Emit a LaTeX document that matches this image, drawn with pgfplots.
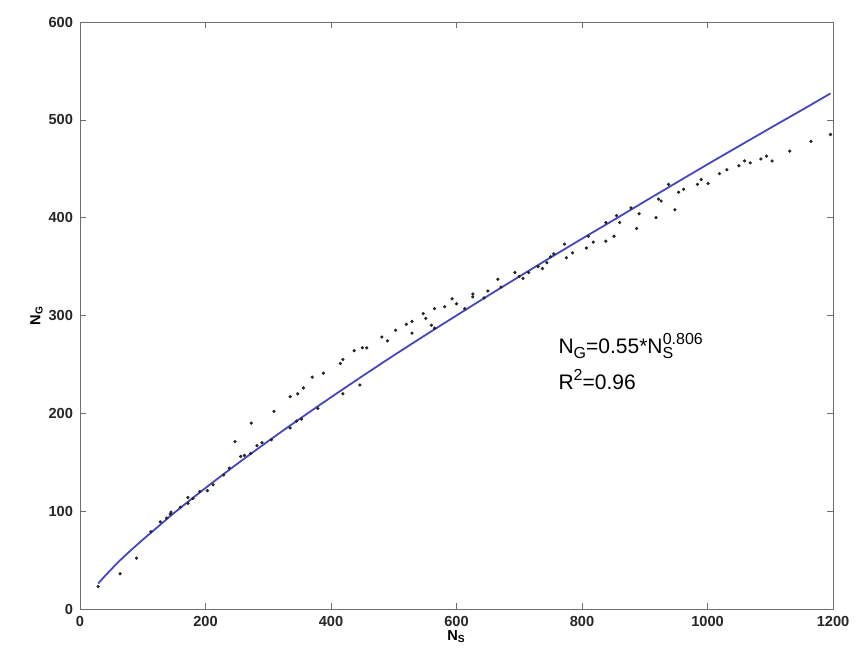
\documentclass[border=0pt]{standalone}
\usepackage{fontspec}
\setmainfont{Liberation Sans}
\usepackage{pgfplots}
\pgfplotsset{compat=1.18}

\definecolor{fitblue}{RGB}{70,70,190}
\definecolor{frame}{RGB}{110,110,110}

\newcommand{\lsub}[1]{\raisebox{-0.45ex}{\fontsize{8}{9}\selectfont #1}}
\newcommand{\lsup}[1]{\raisebox{0.85ex}{\fontsize{8}{9}\selectfont #1}}

\begin{document}
\begin{tikzpicture}
\begin{axis}[
    name=ax,
    width=376.5pt, height=293.5pt,
    scale only axis,
    xmin=0, xmax=1200, ymin=0, ymax=600,
    xtick={0,200,...,1200}, ytick={0,100,...,600},
    tick align=inside,
    major tick length=3pt,
    axis line style={frame},
    tick style={frame},
    /pgf/number format/assume math mode=true,
    /pgf/number format/1000 sep={},
    tick label style={font=\bfseries\fontsize{7.3}{8}\selectfont, text=black!85},
    xlabel={\textbf{N\textsubscript{S}}},
    ylabel={\textbf{N\textsubscript{G}}},
    label style={font=\bfseries\fontsize{7.3}{8}\selectfont},
    xlabel style={yshift=5pt},
    ylabel style={yshift=-4pt},
    clip=false,
]
% observed points
\addplot[only marks, mark=*, mark size=0.6pt, black!85] coordinates {
(29,23) (64,36) (90,52) (113,79) (128,89) (138,93) (144,97) (172,108)
(172,114) (191,120) (203,121) (212,127) (229,137) (238,144) (247,171)
(256,156) (272,159) (273,190) (282,167) (305,173) (309,202) (335,185)
(335,217) (347,220) (353,194) (356,226) (379,205) (370,237) (388,241)
(415,251) (419,255) (419,220) (437,264) (446,229) (450,267) (457,267)
(481,278) (490,274) (503,285) (520,291) (529,294) (529,282) (547,302)
(551,297) (565,307) (565,287) (581,309) (593,317) (600,312) (613,307)
(626,322) (626,319) (644,318) (666,337) (671,329) (693,344) (706,338)
(715,344) (737,348) (744,354) (750,360) (755,363) (772,373) (775,359)
(785,364) (807,369) (810,381) (818,375) (838,376) (838,395) (851,381)
(860,395) (855,402) (878,410) (887,389) (891,404) (918,400) (922,419)
(926,417) (938,434) (948,408) (954,426) (962,429) (984,434) (990,439)
(1001,435) (1019,445) (1031,449) (1050,453) (1059,458) (1068,456)
(1085,460) (1094,463) (1103,458) (1131,468) (1165,478) (1196,485)
(145,99) (160,104) (180,113) (262,157) (290,170) (345,192) (560,290)
(650,325) (700,340) (730,350)
};
% fitted curve
\addplot[fitblue, line width=0.9pt, smooth] coordinates {
(29,26.1) (40,33.9) (60,47.3) (80,59.4) (100,70.8) (125,84.5) (150,98.2)
(200,123.7) (250,148.1) (300,171.6) (350,194.3) (400,216.4) (450,238.0)
(500,259.2) (550,279.8) (600,300.0) (650,320.1) (700,339.8) (750,359.3)
(800,378.5) (850,397.4) (900,416.6) (950,435.6) (1000,454.5) (1050,473.1)
(1100,491.6) (1150,509.9) (1196,527.0)
};
\node[anchor=base west, font=\fontsize{10.5}{12}\selectfont, inner sep=0pt]
  at (axis cs:762,261) {N\lsub{G}=0.55*N\lsub{S}\kern-0.5em\lsup{0.806}};
\node[anchor=base west, font=\fontsize{10.5}{12}\selectfont, inner sep=0pt]
  at (axis cs:762,224) {R\lsup{2}=0.96};
\end{axis}
\path (ax.south west) ++(-40pt,-17.5pt) (ax.north east) ++(14.5pt,11pt);
\end{tikzpicture}
\end{document}
